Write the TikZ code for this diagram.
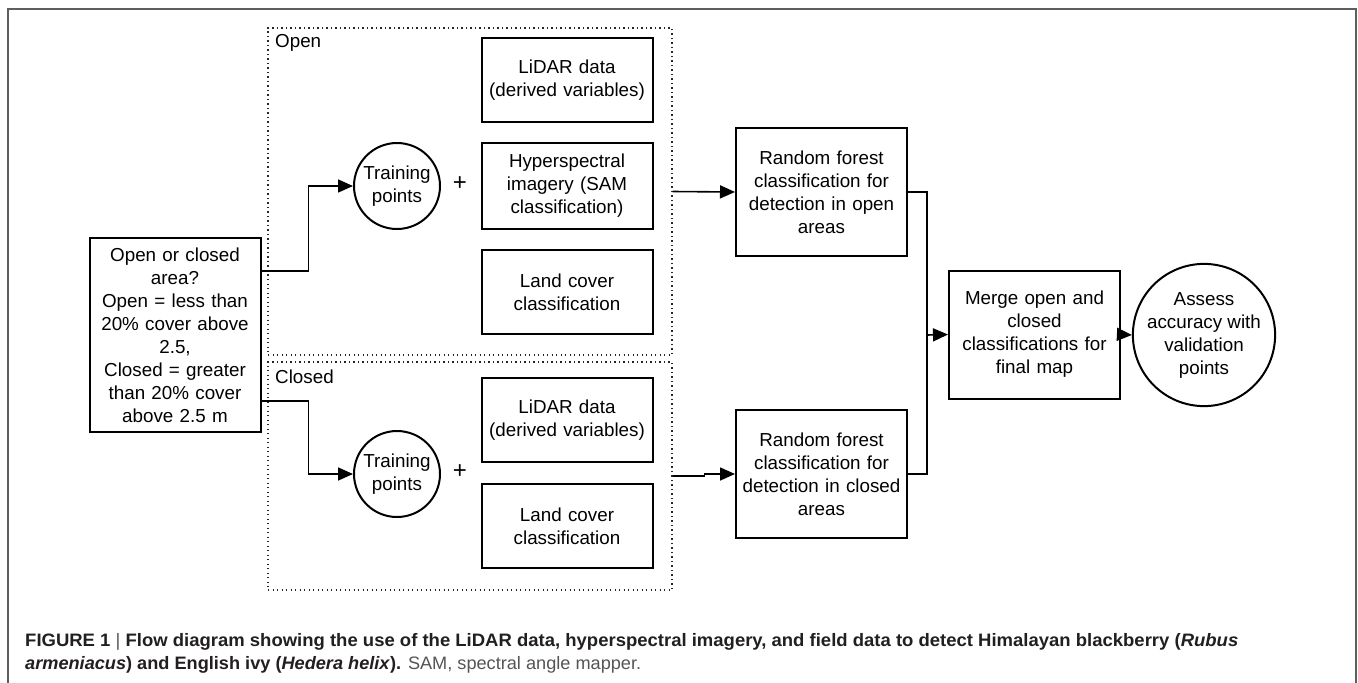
\documentclass[tikz,border=0pt]{standalone}
\usepackage{fontspec}
\setmainfont{Liberation Sans}
\usetikzlibrary{arrows.meta}
\definecolor{capcol}{HTML}{231F20}
\definecolor{capgray}{HTML}{555555}
\definecolor{framecol}{HTML}{5E5E5E}
\begin{document}
\begin{tikzpicture}[x=1pt,y=-1pt,
  box/.style={draw=black, line width=2pt, minimum width=171pt, minimum height=84pt, text width=167pt, align=center, inner sep=0pt, font=\fontsize{18.8}{23}\selectfont},
  circ/.style={draw=black, line width=2pt, circle, minimum size=86pt, inner sep=0pt, align=center, font=\fontsize{18.8}{23}\selectfont},
  grp/.style={draw=black!85, line width=1.3pt, dash pattern=on 1.3pt off 3.2pt, minimum width=404pt, inner sep=0pt},
  conn/.style={line width=1.6pt, -{Triangle[length=15pt,width=13pt]}},
  link/.style={line width=1.6pt},
  lbl/.style={font=\fontsize{18.8}{23}\selectfont, inner sep=0pt, anchor=west},
  plussign/.style={font=\fontsize{24}{24}\selectfont, inner sep=0pt},
  captxt/.style={anchor=west, inner sep=0pt, text=capcol},
]
\useasboundingbox (0,0) rectangle (1358,683);
\fill[white] (0,0) rectangle (1358,683);
\draw[framecol, line width=2pt] (7.5,683) -- (7.5,9) -- (1356,9) -- (1356,683);

% groups
\node[grp, minimum height=327pt] (grpO) at (470,191.5) {};
\node[grp, minimum height=228pt] (grpC) at (470,476) {};
\node[lbl] (lblO) at (275,43) {Open};
\node[lbl] (lblC) at (275,377) {Closed};

% decision
\node[box, minimum height=194pt] (dec) at (175,335) {Open or closed\\area?\\Open = less than\\20\% cover above\\2.5,\\Closed = greater\\than 20\% cover\\above 2.5 m};

% open group
\node[box] (lidO) at (567,80) {LiDAR data\\(derived variables)};
\node[box, minimum height=86pt] (hyp) at (567,186) {Hyperspectral\\imagery (SAM\\classification)};
\node[box] (lcO) at (567,292) {Land cover\\classification};
\node[circ] (trO) at (397,186) {Training\\points};
\node[plussign] (plusO) at (460,184) {+};

% closed group
\node[box] (lidC) at (567,420) {LiDAR data\\(derived variables)};
\node[box] (lcC) at (567,526) {Land cover\\classification};
\node[circ] (trC) at (397,474) {Training\\points};
\node[plussign] (plusC) at (460,472) {+};

% right side
\node[box, minimum height=128pt] (rfO) at (821.5,192) {Random forest\\classification for\\detection in open\\areas};
\node[box, minimum height=128pt] (rfC) at (821.5,474) {Random forest\\classification for\\detection in closed\\areas};
\node[box, minimum height=128pt] (mrg) at (1034.5,334.5) {Merge open and\\closed\\classifications for\\final map};
\node[circ, minimum size=126pt] (asm) at (1204,335) {Assess\\accuracy with\\validation\\points};

% connectors
\draw[conn] ([yshift=64pt]dec.east) -- ++(47,0) |- (trO.west);
\draw[conn] ([yshift=-66pt]dec.east) -- ++(47,0) |- (trC.west);
\draw[conn] (grpO.east) -- (rfO.west);
\draw[conn] (grpC.east) -- ++(32,0) |- (rfC.west);
\coordinate (jn) at (927,335);
\draw[link] (rfO.east) -| (jn);
\draw[link] (rfC.east) -| (jn);
\draw[conn] (jn) -- (mrg.west);
\draw[conn] (mrg.east) -- (asm.west);

% caption
\node[captxt] (cap1) at (25,642) {\resizebox{1213pt}{\height}{\fontsize{18}{22}\selectfont\bfseries FIGURE 1 {\color{capgray}\mdseries|} Flow diagram showing the use of the LiDAR data, hyperspectral imagery, and field data to detect Himalayan blackberry (\textit{Rubus}}};
\node[captxt] (cap2) at (25,665) {\resizebox{616pt}{\height}{\fontsize{18}{22}\selectfont{\bfseries\textit{armeniacus}) and English ivy (\textit{Hedera helix}).} {\color{capgray}SAM, spectral angle mapper.}}};
\end{tikzpicture}
\end{document}
